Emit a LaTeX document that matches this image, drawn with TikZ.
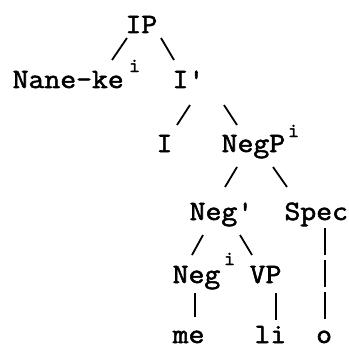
\documentclass[tikz,border=0pt]{standalone}
\usepackage{fontspec}
\newfontfamily\typ[FakeBold=2,FakeStretch=1.10]{Latin Modern Mono}
\begin{document}
\begin{tikzpicture}[x=1pt,y=-1pt,
  lab/.style={font=\typ\fontsize{28}{28}\selectfont,inner sep=0pt,anchor=base west},
  sup/.style={font=\typ\fontsize{20}{20}\selectfont,inner sep=0pt,anchor=base},
  br/.style={line width=1.8pt}]
\useasboundingbox (0,0) rectangle (349,348);
% text nodes
\node[lab] (IP) at (125.3,33) {IP};
\node[lab] (Nane) at (12.5,88) {Nane-ke};
\node[sup] (s1) at (134.5,72) {i};
\node[lab] (Ibar) at (172.3,88) {I'};
\node[lab] (I) at (156.3,152) {I};
\node[lab] (NegP) at (221.5,152) {NegP};
\node[sup] (s2) at (293.5,137) {i};
\node[lab] (Negbar) at (189.5,220) {Neg'};
\node[lab] (Spec) at (284.3,220) {Spec};
\node[lab] (Neg) at (172.5,283) {Neg};
\node[sup] (s3) at (229.5,265) {i};
\node[lab] (VP) at (249.5,283) {VP};
\node[lab] (me) at (172.5,343) {me};
\node[lab] (li) at (254.3,343) {li};
\node[lab] (o) at (316,343) {o};
% connector end points
\coordinate (a1) at (127,38);  \coordinate (a2) at (112,60);
\coordinate (b1) at (161,38);  \coordinate (b2) at (174,60);
\coordinate (c1) at (190,105); \coordinate (c2) at (177,125);
\coordinate (d1) at (224,105); \coordinate (d2) at (237,125);
\coordinate (e1) at (237,167); \coordinate (e2) at (225,187);
\coordinate (f1) at (273,167); \coordinate (f2) at (287,187);
\coordinate (g1) at (203,235); \coordinate (g2) at (192,255);
\coordinate (h1) at (240,235); \coordinate (h2) at (252,255);
\coordinate (k1) at (325,228); \coordinate (k2) at (325,255);
\coordinate (k3) at (325,260); \coordinate (k4) at (325,287);
\coordinate (k5) at (325,292); \coordinate (k6) at (325,319);
\coordinate (m1) at (195,293); \coordinate (m2) at (195,317);
\coordinate (n1) at (276,293); \coordinate (n2) at (276,320);
\draw[br] (a1) -- (a2);
\draw[br] (b1) -- (b2);
\draw[br] (c1) -- (c2);
\draw[br] (d1) -- (d2);
\draw[br] (e1) -- (e2);
\draw[br] (f1) -- (f2);
\draw[br] (g1) -- (g2);
\draw[br] (h1) -- (h2);
\draw[br] (k1) -- (k2);
\draw[br] (k3) -- (k4);
\draw[br] (k5) -- (k6);
\draw[br] (m1) -- (m2);
\draw[br] (n1) -- (n2);
\end{tikzpicture}
\end{document}
